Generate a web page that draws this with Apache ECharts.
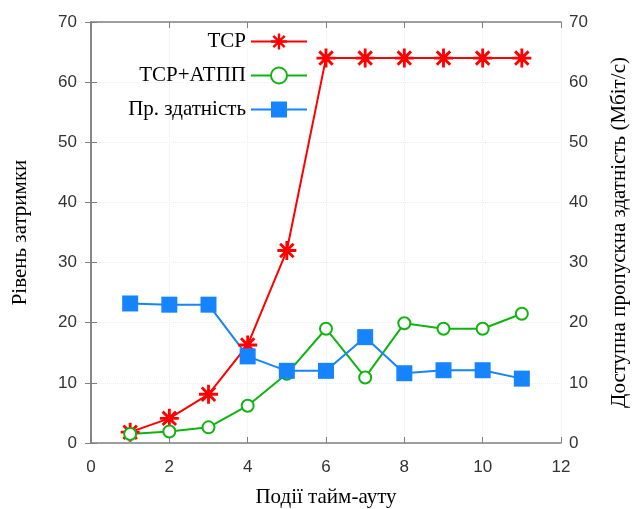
<!DOCTYPE html>
<html><head><meta charset="utf-8">
<script src="https://cdn.jsdelivr.net/npm/echarts@6/dist/echarts.min.js"></script>
<style>html,body{margin:0;padding:0;background:#fff}#c{width:638px;height:509px}</style>
</head><body><div id="c"></div>
<script>
const xValues = [1,2,3,4,5,6,7,8,9,10,11];
const tcp = [1.8,4.1,8.1,16.3,32,64,64,64,64,64,64];
const tcpAtpp = [1.5,1.9,2.6,6.2,11.5,19,10.9,19.9,19,19,21.5];
const bandwidth = [23.2,23,23,14.4,12,12,17.6,11.6,12.1,12.1,10.7];
const seriesNames = ['TCP','TCP+АТПП','Пр. здатність'];
const xTitle = 'Події тайм-ауту';
const yLeftTitle = 'Рівень затримки';
const yRightTitle = 'Доступна пропускна здатність (Мбіт/с)';

const star = 'path://M-10,-1.5L10,-1.5L10,1.5L-10,1.5Z M1.5,-10L1.5,10L-1.5,10L-1.5,-10Z M-6.01,-8.13L8.13,6.01L6.01,8.13L-8.13,-6.01Z M8.13,-6.01L-6.01,8.13L-8.13,6.01L6.01,-8.13Z';
const pairs = a => xValues.map((x,i)=>[x,a[i]]);
const frame = '#808080';
const serif = '"Liberation Serif", "DejaVu Serif", serif';
const sans = '"Liberation Sans", Arial, sans-serif';
const chart = echarts.init(document.getElementById('c'));
const yAxisBase = {
  type:'value', min:0, max:70, interval:10,
  axisLine:{show:true, lineStyle:{color:frame, width:1.5}},
  axisTick:{show:true, inside:true, length:6, lineStyle:{color:frame}},
  axisLabel:{color:'#333', fontSize:17, fontFamily:sans, margin:14},
  nameLocation:'middle', nameTextStyle:{color:'#000', fontSize:21, fontFamily:serif}
};
chart.setOption({
  animation:false,
  grid:{left:91, right:77, top:22, bottom:66, containLabel:false, outerBoundsMode:'none'},
  legend:{
    orient:'vertical', align:'right', right:325, top:26, itemGap:13,
    itemWidth:56, itemHeight:20,
    textStyle:{fontSize:21, fontFamily:serif, color:'#000'},
    data:seriesNames
  },
  xAxis:[{
    type:'value', min:0, max:12, interval:2,
    axisLine:{show:true, onZero:false, lineStyle:{color:frame, width:1.5}},
    axisTick:{show:true, inside:true, length:6, lineStyle:{color:frame}},
    axisLabel:{color:'#333', fontSize:17, fontFamily:sans, margin:16},
    splitLine:{show:true, lineStyle:{color:'#eee', type:'dotted'}},
    name:xTitle, nameLocation:'middle', nameGap:44,
    nameTextStyle:{color:'#000', fontSize:21, fontFamily:serif}
  },{
    type:'value', min:0, max:12, interval:2, position:'top',
    axisLine:{show:true, onZero:false, lineStyle:{color:frame, width:1.5}},
    axisTick:{show:true, inside:true, length:6, lineStyle:{color:frame}},
    axisLabel:{show:false}, splitLine:{show:false}
  }],
  yAxis:[
    Object.assign({}, yAxisBase, {position:'left', name:yLeftTitle, nameGap:60,
      splitLine:{show:true, lineStyle:{color:'#eee', type:'dotted'}}}),
    Object.assign({}, yAxisBase, {position:'right', name:yRightTitle, nameGap:48,
      axisLabel:{color:'#333', fontSize:17, fontFamily:sans, margin:8},
      splitLine:{show:false}})
  ],
  series:[
    {name:seriesNames[0], type:'line', data:pairs(tcp), yAxisIndex:0,
     symbol:star, symbolSize:19, color:'#ff0000',
     lineStyle:{width:2, color:'#ff0000'}, itemStyle:{color:'#ff0000'}},
    {name:seriesNames[1], type:'line', data:pairs(tcpAtpp), yAxisIndex:0,
     symbol:'emptyCircle', symbolSize:12, color:'#10b410',
     lineStyle:{width:2, color:'#10b410'}, itemStyle:{color:'#10b410', borderWidth:2}},
    {name:seriesNames[2], type:'line', data:pairs(bandwidth), yAxisIndex:1,
     symbol:'rect', symbolSize:16, color:'#1683ff',
     lineStyle:{width:2, color:'#1683ff'}, itemStyle:{color:'#1683ff'}}
  ]
});
</script></body></html>
